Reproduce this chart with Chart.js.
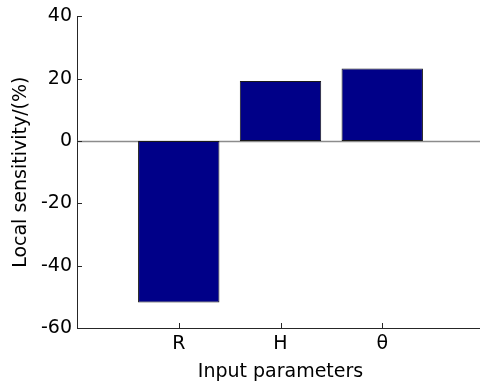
<!DOCTYPE html>
<html>
<head>
<meta charset="utf-8">
<script src="https://cdn.jsdelivr.net/npm/chart.js@4/dist/chart.umd.min.js"></script>
<style>
  html, body { margin: 0; padding: 0; background: #fff; }
  #wrap { width: 480px; height: 383px; overflow: hidden; }
  #box { width: 484px; height: 383px; }
</style>
</head>
<body>
<div id="wrap"><div id="box"><canvas id="chart"></canvas></div></div>
<script>
// data
const categories = ['R', 'H', 'θ'];
const positions = [1, 2, 3];
const sensitivity = [-51.8, 19.3, 23.3];
const yTicks = [-60, -40, -20, 0, 20, 40];
const xRange = [0, 4];

const FONT = '"DejaVu Sans", Arial, sans-serif';
const AXIS = '#262626';

// matlab-ish axes: ticks pointing inward + grey baseline at zero
const matlabAxes = {
    id: 'matlabAxes',
    beforeDatasetsDraw(chart) {
        const { ctx, chartArea, scales } = chart;
        const y0 = Math.round(scales.y.getPixelForValue(0)) + 0.5;
        ctx.save();
        ctx.strokeStyle = '#8c8c8c';
        ctx.lineWidth = 1.5;
        ctx.beginPath();
        ctx.moveTo(chartArea.left, y0);
        ctx.lineTo(chartArea.right, y0);
        ctx.stroke();
        ctx.restore();
    },
    afterDraw(chart) {
        const { ctx, chartArea, scales } = chart;
        ctx.save();
        ctx.strokeStyle = AXIS;
        ctx.lineWidth = 1;
        ctx.beginPath();
        yTicks.forEach(v => {
            const py = Math.round(scales.y.getPixelForValue(v)) + 0.5;
            ctx.moveTo(chartArea.left, py);
            ctx.lineTo(chartArea.left + 5, py);
        });
        positions.forEach(p => {
            const px = Math.round(scales.x.getPixelForValue(p)) + 0.5;
            ctx.moveTo(px, chartArea.bottom);
            ctx.lineTo(px, chartArea.bottom - 5);
        });
        ctx.stroke();
        ctx.restore();
    }
};

new Chart(document.getElementById('chart'), {
    type: 'bar',
    data: {
        datasets: [{
            data: positions.map((p, i) => ({ x: p, y: sensitivity[i] })),
            backgroundColor: '#000088',
            borderColor: '#1a1a1a',
            borderWidth: 1,
            borderSkipped: false,
            barPercentage: 0.8,
            categoryPercentage: 1.0
        }]
    },
    options: {
        responsive: true,
        maintainAspectRatio: false,
        animation: false,
        layout: { padding: { top: 16, right: 0, left: 0, bottom: 0 } },
        plugins: {
            legend: { display: false },
            tooltip: { enabled: false }
        },
        scales: {
            x: {
                type: 'linear',
                min: xRange[0],
                max: xRange[1],
                offset: false,
                afterBuildTicks: scale => {
                    scale.ticks = positions.map(p => ({ value: p }));
                },
                afterFit: scale => { scale.height = 55; },
                grid: { display: false, drawTicks: false, offset: false },
                border: { display: true, color: AXIS, width: 1 },
                ticks: {
                    autoSkip: false,
                    maxRotation: 0,
                    padding: 5,
                    color: '#000',
                    font: { family: FONT, size: 19 },
                    callback: v => categories[positions.indexOf(v)]
                },
                title: {
                    display: true,
                    text: 'Input parameters',
                    color: '#000',
                    font: { family: FONT, size: 19 },
                    padding: { top: 0, bottom: 0 }
                }
            },
            y: {
                min: yTicks[0],
                max: yTicks[yTicks.length - 1],
                afterBuildTicks: scale => {
                    scale.ticks = yTicks.map(v => ({ value: v }));
                },
                afterFit: scale => { scale.width = 77; },
                grid: { display: false, drawTicks: false },
                border: { display: true, color: AXIS, width: 1 },
                ticks: {
                    padding: 5,
                    color: '#000',
                    font: { family: FONT, size: 19 }
                },
                title: {
                    display: true,
                    text: 'Local sensitivity/(%)',
                    color: '#000',
                    font: { family: FONT, size: 19 },
                    padding: { top: 10, bottom: 0 }
                }
            }
        }
    },
    plugins: [matlabAxes]
});
</script>
</body>
</html>
